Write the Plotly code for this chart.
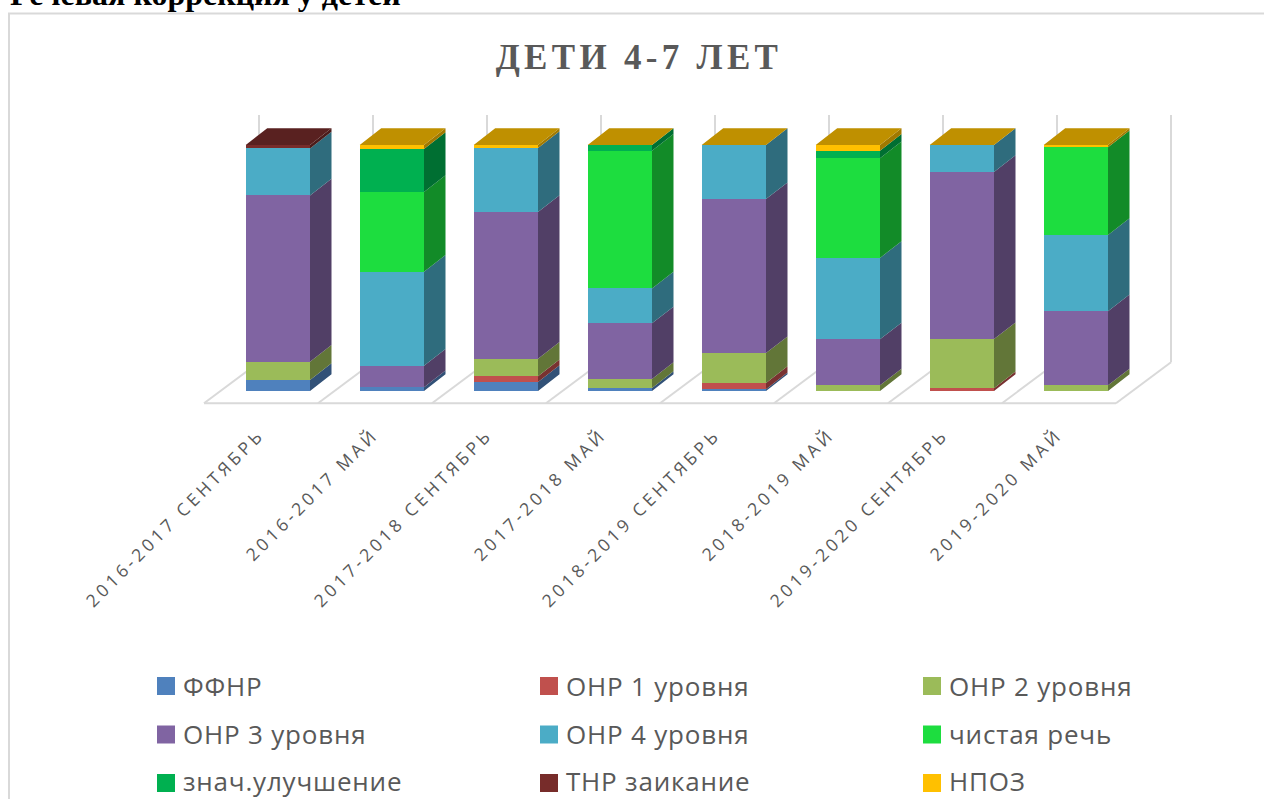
import plotly.graph_objects as go

# ---------- data (percent of children per period); None = no value in that period ----------
periods = ["2016-2017 СЕНТЯБРЬ", "2016-2017 МАЙ", "2017-2018 СЕНТЯБРЬ", "2017-2018 МАЙ",
           "2018-2019 СЕНТЯБРЬ", "2018-2019 МАЙ", "2019-2020 СЕНТЯБРЬ", "2019-2020 МАЙ"]
ffnr    = [4.5, 1.5, 3.7, 1.2, 0.7, 0.0, 0.0, 0.0]
onr1    = [0.0, 0.0, 2.3, 0.0, 2.6, 0.0, 1.1, 0.0]
onr2    = [7.4, 0.0, 7.1, 3.7, 12.1, 2.3, 20.0, 2.3]
onr3    = [67.6, 8.8, 59.7, 22.6, 62.6, 18.7, 67.9, 30.1]
onr4    = [19.1, 38.2, 26.0, 14.2, 22.0, 33.1, 11.0, 31.0]
clean   = [0.0, 32.4, 0.0, 56.0, 0.0, 40.5, 0.0, 35.7]
improved= [0.0, 17.5, 0.0, 2.3, 0.0, 3.1, 0.0, 0.0]
stutter = [1.4, 0.0, 0.0, 0.0, 0.0, 0.0, 0.0, 0.0]
npoz    = [None, 1.6, 1.2, 0.0, 0.0, 2.3, 0.0, 0.9]

series_names = ["ФФНР", "ОНР 1 уровня", "ОНР 2 уровня", "ОНР 3 уровня", "ОНР 4 уровня",
                "чистая речь", "знач.улучшение", "ТНР заикание", "НПОЗ"]
series_values = [ffnr, onr1, onr2, onr3, onr4, clean, improved, stutter, npoz]
series_colors = ["#4f81bd", "#c0504d", "#9bbb59", "#8064a2", "#4bacc6",
                 "#1ddd3f", "#00b050", "#772c2a", "#ffc000"]

# ---------- geometry of the oblique 3D look ----------
W, H = 1264, 799
PLOT_B = 420
PITCH = 114.0       # px per category
X0 = 277.85         # px of category 0 (front face centre)
Y0 = 391.0          # px of value 0
PPV = 2.46          # px per percent
BAR_W = 64.3 / PITCH
DX, DY = 21.5 / PITCH, 16.7 / PPV          # bar depth in axis units
FDX, FDY = 55 / PITCH, 41 / PPV            # floor depth in axis units
FLOOR_X0 = (204 - X0) / PITCH
FLOOR_Y = (Y0 - 403.3) / PPV
WALL_TOP = (Y0 - 115) / PPV
GRID = "#d9d9d9"

def shade(hex_color, f):
    r, g, b = (int(hex_color[i:i + 2], 16) for i in (1, 3, 5))
    return f"rgb({round(r * f)},{round(g * f)},{round(b * f)})"

def px(x):
    return x / W

def py(y):
    return (PLOT_B - y) / PLOT_B

fig = go.Figure()
idx = list(range(len(periods)))

# front faces: real stacked bars
for name, vals, col in zip(series_names, series_values, series_colors):
    fig.add_trace(go.Bar(x=idx, y=vals, name=name, width=BAR_W, marker=dict(color=col, line_width=0),
                         showlegend=False, hovertemplate="%{y}%<extra>" + name + "</extra>"))

# side faces and top faces derived from the same values
cum = [[0.0] * len(periods)]
for vals in series_values:
    cum.append([a + (b or 0.0) for a, b in zip(cum[-1], vals)])

for s, (name, col) in enumerate(zip(series_names, series_colors)):
    sx, sy, tx, ty = [], [], [], []
    for i in idx:
        v0, v1 = cum[s][i], cum[s + 1][i]
        xl, xr = i - BAR_W / 2, i + BAR_W / 2
        if v1 > v0:
            sx += [xr, xr + DX, xr + DX, xr, xr, None]
            sy += [v0, v0 + DY, v1 + DY, v1, v0, None]
        # the roof takes the colour of the last series present in that column
        last = max(k for k, v in enumerate(series_values) if v[i] is not None and (k == 8 or v[i] > 0))
        if last == s:
            tx += [xl, xr, xr + DX, xl + DX, xl, None]
            ty += [v1, v1, v1 + DY, v1 + DY, v1, None]
    if sx:
        fig.add_trace(go.Scatter(x=sx, y=sy, mode="lines", fill="toself", fillcolor=shade(col, 0.63),
                                 line=dict(width=0, color=shade(col, 0.63)), showlegend=False, hoverinfo="skip"))
    if tx:
        fig.add_trace(go.Scatter(x=tx, y=ty, mode="lines", fill="toself", fillcolor=shade(col, 0.75),
                                 line=dict(width=0, color=shade(col, 0.75)), showlegend=False, hoverinfo="skip"))

shapes = []
# chart frame
shapes.append(dict(type="rect", xref="paper", yref="paper", x0=px(9), x1=px(W + 20), y0=py(13.5), y1=py(H + 20),
                   line=dict(color=GRID, width=2), fillcolor="rgba(0,0,0,0)", layer="below"))
# floor and back wall
line = dict(color=GRID, width=2)
shapes.append(dict(type="line", xref="x", yref="y", x0=FLOOR_X0, x1=FLOOR_X0 + len(periods),
                   y0=FLOOR_Y, y1=FLOOR_Y, line=line, layer="below"))
for k in range(len(periods) + 1):
    xf = FLOOR_X0 + k
    shapes.append(dict(type="line", xref="x", yref="y", x0=xf, x1=xf + FDX, y0=FLOOR_Y, y1=FLOOR_Y + FDY,
                       line=line, layer="below"))
    shapes.append(dict(type="line", xref="x", yref="y", x0=xf + FDX, x1=xf + FDX, y0=FLOOR_Y + FDY, y1=WALL_TOP,
                       line=line, layer="below"))

# legend, 3 columns x 3 rows
annotations = []
LEG_X = [157, 540, 923]
LEG_Y = [686, 734.5, 783]
LEG_TEXT_Y = [685.5, 734, 780.5]
for n, (name, col) in enumerate(zip(series_names, series_colors)):
    lx, ly = LEG_X[n % 3], LEG_Y[n // 3]
    shapes.append(dict(type="rect", xref="paper", yref="paper", x0=px(lx), x1=px(lx + 18),
                       y0=py(ly - 9), y1=py(ly + 9), fillcolor=col, line_width=0))
    annotations.append(dict(text=name, xref="paper", yref="paper", x=px(lx + 24), y=py(LEG_TEXT_Y[n // 3]),
                            xanchor="left", align="left", yanchor="middle", showarrow=False,
                            font=dict(family="Open Sans", size=26, color="#595959")))

# page heading, clipped by the top of the page as in the source
annotations.append(dict(text="<b>Речевая коррекция у детей</b>", xref="paper", yref="paper", x=px(8), y=py(-6),
                        xanchor="left", align="left", yanchor="middle", showarrow=False,
                        font=dict(family="Liberation Serif", size=32, color="#000000")))

fig.update_layout(
    width=W, height=H, autosize=False, barmode="stack", bargap=0,
    paper_bgcolor="white", plot_bgcolor="rgba(0,0,0,0)", showlegend=False,
    margin=dict(l=0, r=0, t=0, b=H - PLOT_B),
    title=dict(text="<b>ДЕТИ 4-7 ЛЕТ</b>", x=639 / W, xanchor="center", y=1 - 57 / H, yanchor="middle",
               font=dict(family="Liberation Serif", size=35, color="#595959")),
    xaxis=dict(range=[(0 - X0) / PITCH, (W - X0) / PITCH], tickmode="array", tickvals=[i - 0.16 for i in idx],
               ticktext=periods, tickangle=-45, showgrid=False, zeroline=False, showline=False, ticks="",
               tickfont=dict(family="Open Sans", size=17.5, color="#595959")),
    yaxis=dict(range=[(Y0 - PLOT_B) / PPV, Y0 / PPV], visible=False, showgrid=False, zeroline=False),
    shapes=shapes, annotations=annotations,
)

post = """
var st = document.createElement('style');
st.textContent = 'body{margin:0;overflow:hidden}.xtick text{letter-spacing:3.7px}.gtitle{letter-spacing:4.3px}'
  + '.annotation-text{letter-spacing:0.8px}.annotation[data-index="9"] .annotation-text{letter-spacing:0}';
document.head.appendChild(st);
"""
fig.write_html("out.html", post_script=post, config=dict(displayModeBar=False))
